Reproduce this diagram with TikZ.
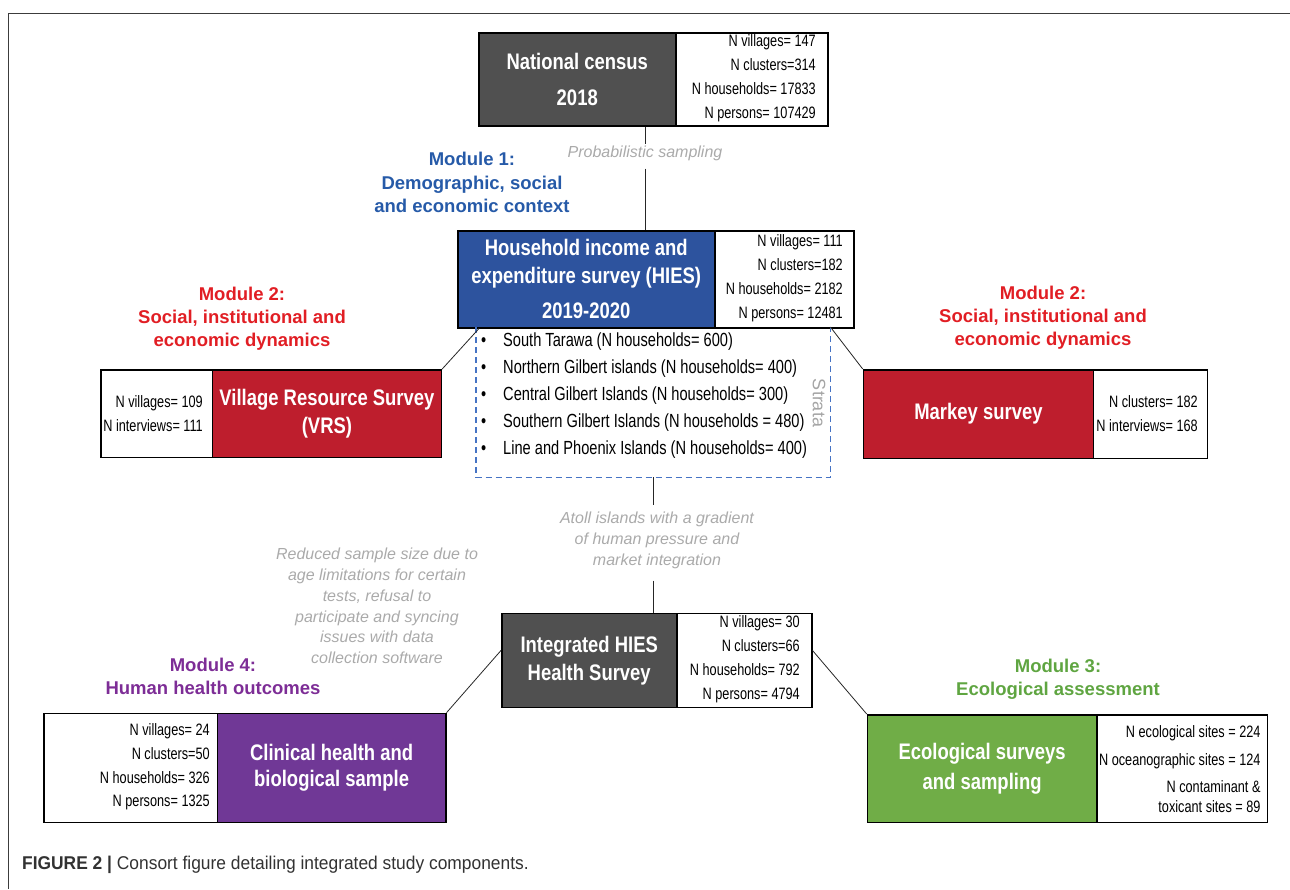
\documentclass[tikz,border=0pt]{standalone}
\usepackage{fontspec}
\setmainfont{Liberation Sans}
\newfontfamily\narrowfont{Liberation Sans}[FakeStretch=0.82]
\newfontfamily\numfont{Liberation Sans}[FakeStretch=0.77]
\newfontfamily\capfont{Liberation Sans}[FakeStretch=0.94]
\definecolor{cgray}{RGB}{80,80,80}
\definecolor{hiesblue}{RGB}{45,83,158}
\definecolor{dashblue}{RGB}{70,115,196}
\definecolor{vrsred}{RGB}{190,30,45}
\definecolor{modred}{RGB}{225,30,36}
\definecolor{modblue}{RGB}{38,90,168}
\definecolor{clinpurple}{RGB}{112,56,150}
\definecolor{modpurple}{RGB}{125,45,150}
\definecolor{ecogreen}{RGB}{112,173,71}
\definecolor{modgreen}{RGB}{95,165,65}
\definecolor{notegray}{RGB}{170,170,170}
\definecolor{strgray}{RGB}{165,165,165}
\definecolor{capgray}{RGB}{50,50,50}
\definecolor{framecol}{RGB}{60,60,60}
\tikzset{
  cbox/.style={draw=black, line width=1.5pt, rectangle, inner sep=0pt, anchor=north west},
  titlebox/.style={cbox, text=white, font=\narrowfont\bfseries\fontsize{22.5}{28}\selectfont, align=center},
  numtext/.style={anchor=east, align=right, inner sep=0pt, font=\numfont\fontsize{16.5}{24}\selectfont},
  modtext/.style={align=center, inner sep=0pt, font=\bfseries\fontsize{18.5}{23}\selectfont},
  note/.style={align=center, inner sep=0pt, text=notegray, font=\itshape\fontsize{16}{21}\selectfont},
  conn/.style={draw=black!85, line width=0.8pt},
  stratadash/.style={draw=dashblue, line width=1.5pt, dash pattern=on 6pt off 4pt},
}
\begin{document}
\begin{tikzpicture}[x=1pt,y=-1pt]
\useasboundingbox (0,0) rectangle (1290,889);
% frame
\coordinate (fTR) at (1290,13.5);
\coordinate (fTL) at (8.5,13.5);
\coordinate (fBL) at (8.5,889);
\draw[framecol, line width=1.5pt] (fTR) -- (fTL) -- (fBL);

% National census
\node[titlebox, fill=cgray, minimum width=197pt, minimum height=93pt] (censusD) at (478,32) {National census\\[8pt]2018};
\node[cbox, fill=white, minimum width=152pt, minimum height=93pt] (censusN) at (675,32) {};
\node[numtext] (censusT) at (816,78.5) {N villages= 147\\N clusters=314\\N households= 17833\\N persons= 107429};

% HIES
\node[titlebox, fill=hiesblue, minimum width=257pt, minimum height=97pt] (hies) at (457,230) {Household income and\\expenditure survey (HIES)\\[7pt]2019-2020};
\node[cbox, fill=white, minimum width=139pt, minimum height=97pt] (hiesN) at (714,230) {};
\node[numtext] (hiesT) at (843,278.5) {N villages= 111\\N clusters=182\\N households= 2182\\N persons= 12481};

% probabilistic sampling
\node[note] (prob) at (645,153) {Probabilistic sampling};
\draw[conn] (prob.north |- censusD.south) -- ([yshift=1pt]prob.north);
\draw[conn] ([yshift=-8pt]prob.south) -- (prob.south |- hies.north);

% Module 1
\node[modtext, text=modblue] (m1) at (472,182) {Module 1:\\[1pt]Demographic, social\\and economic context};

% strata
\node[inner sep=0pt, minimum width=354pt, minimum height=150pt, anchor=north west] (strata) at (476,327) {};
\draw[stratadash] (strata.north west) -- (strata.south west) -- (strata.south east) -- (strata.north east);
\node[anchor=west, align=left, inner sep=0pt, font=\numfont\fontsize{19}{27}\selectfont] (list) at (481,396)
  {\makebox[22pt][l]{•}South Tarawa (N households= 600)\\
   \makebox[22pt][l]{•}Northern Gilbert islands (N households= 400)\\
   \makebox[22pt][l]{•}Central Gilbert Islands (N households= 300)\\
   \makebox[22pt][l]{•}Southern Gilbert Islands (N households = 480)\\
   \makebox[22pt][l]{•}Line and Phoenix Islands (N households= 400)};
\node[rotate=-90, inner sep=0pt, text=strgray, font=\fontsize{18}{20}\selectfont] (stratalbl) at (819,403) {Strata};

% VRS
\node[cbox, fill=white, minimum width=111.7pt, minimum height=87.7pt] (vrsN) at (100,369) {};
\node[titlebox, fill=vrsred, minimum width=229pt, minimum height=87.7pt] (vrs) at (211.7,369) {Village Resource Survey\\(VRS)};
\node[numtext] (vrsT) at (203,413.7) {N villages= 109\\N interviews= 111};
\node[modtext, text=modred] (m2l) at (242,319) {Module 2:\\Social, institutional and\\economic dynamics};

% Market
\node[titlebox, fill=vrsred, minimum width=230pt, minimum height=88.7pt] (mkt) at (862.7,369) {Markey survey};
\node[cbox, fill=white, minimum width=114pt, minimum height=88.7pt] (mktN) at (1092.7,369) {};
\node[numtext] (mktT) at (1198,413.7) {N clusters= 182\\N interviews= 168};
\node[modtext, text=modred] (m2r) at (1043,317.5) {Module 2:\\Social, institutional and\\economic dynamics};

\draw[conn] (vrs.north east) -- ([xshift=22pt]hies.south west);
\draw[conn] (mkt.north west) -- (strata.north east);

% Atoll
\node[note] (atoll) at (657,540) {Atoll islands with a gradient\\of human pressure and\\market integration};

% Integrated health survey
\node[titlebox, fill=cgray, minimum width=175pt, minimum height=94pt] (healthD) at (501,612.7) {Integrated HIES\\Health Survey};
\node[cbox, fill=white, minimum width=135pt, minimum height=94pt] (healthN) at (676,612.7) {};
\node[numtext] (healthT) at (800,659.7) {N villages= 30\\N clusters=66\\N households= 792\\N persons= 4794};

\draw[conn, shorten >=6pt] (strata.south) -- (strata.south |- atoll.north);
\draw[conn, shorten <=12pt] (strata.south |- atoll.south) -- (strata.south |- healthD.north);

% reduced note
\node[note, font=\itshape\fontsize{16}{20.7}\selectfont] (reduced) at (377,606) {Reduced sample size due to\\age limitations for certain\\tests, refusal to\\participate and syncing\\issues with data\\collection software};

% Clinical
\node[modtext, text=modpurple] (m4) at (213,676) {Module 4:\\Human health outcomes};
\node[cbox, fill=white, minimum width=173.7pt, minimum height=109pt] (clinN) at (43,712.7) {};
\node[titlebox, fill=clinpurple, minimum width=228.3pt, minimum height=109pt] (clin) at (216.7,712.7) {Clinical health and\\[-2pt]biological sample};
\node[numtext, font=\numfont\fontsize{16.5}{23.7}\selectfont] (clinT) at (210,767) {N villages= 24\\N clusters=50\\N households= 326\\N persons= 1325};

% Ecological
\node[modtext, text=modgreen] (m3) at (1058,678.8) {Module 3:\\Ecological assessment};
\node[titlebox, fill=ecogreen, minimum width=229.3pt, minimum height=107.7pt] (eco) at (866.7,714) {Ecological surveys\\[1.4pt]and sampling};
\node[cbox, fill=white, minimum width=170.7pt, minimum height=107.7pt] (ecoN) at (1096,714) {};
\node[numtext, font=\numfont\fontsize{16.5}{20}\selectfont] (ecoT) at (1260.7,769.2) {N ecological sites = 224\\[8.3pt]N oceanographic sites = 124\\[6.7pt]N contaminant \&\\toxicant sites = 89};

\draw[conn] (clin.north east) -- ([yshift=10pt]healthD.west);
\draw[conn] ([yshift=10pt]healthN.east) -- (eco.north west);

% caption
\node[anchor=west, inner sep=0pt, text=capgray, font=\capfont\fontsize{18.5}{22}\selectfont] (cap) at (22,865) {\textbf{FIGURE 2 |} Consort figure detailing integrated study components.};
\end{tikzpicture}
\end{document}
